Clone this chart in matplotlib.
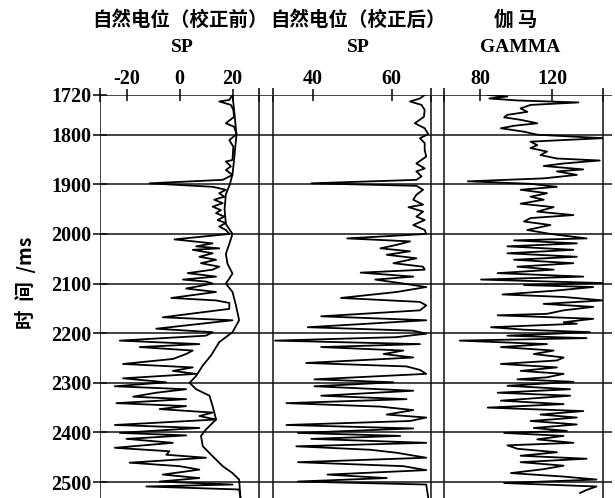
import matplotlib.pyplot as plt

# depth in ms, values
sp_raw_depth = [1720, 1730, 1733, 1740, 1750, 1764, 1777, 1784, 1799, 1811, 1824, 1851, 1854, 1864,
                1871, 1881, 1891, 1898, 1905, 1911, 1918, 1925, 1931, 1938, 1945, 1952, 1958, 1965,
                1972, 1978, 1985, 1992, 2000, 2011, 2019, 2025, 2029, 2032, 2039, 2046, 2052, 2059,
                2066, 2072, 2079, 2086, 2092, 2096, 2100, 2110, 2117, 2129, 2134, 2139, 2151, 2168,
                2174, 2191, 2198, 2205, 2215, 2222, 2228, 2235, 2242, 2252, 2262, 2269, 2276, 2282,
                2291, 2299, 2307, 2313, 2320, 2328, 2333, 2341, 2347, 2353, 2360, 2367, 2374, 2385,
                2391, 2401, 2406, 2413, 2421, 2431, 2438, 2445, 2451, 2461, 2468, 2475, 2485, 2492,
                2499, 2505, 2509, 2515, 2532]
sp_raw = [20, 18.8, 15, 19.4, 20.3, 20.6, 17.5, 20.6, 21.5, 18.8, 20.3, 20, 17.5, 19.4,
          17.5, 20, 16.3, -11.3, 12.5, 17.5, 15, 16.9, 13.1, 16.3, 12.5, 15.6, 13.8, 16.9,
          14.4, 17.5, 15, 17.5, 18.8, -1.9, 12.5, 6.3, 15, 5, 12.5, 7.5, 13.8, 8.1,
          15, 12.5, 3.1, 13.8, 1.3, 10, 12.5, 2.5, 13.8, -3.1, 13.8, 18.8, 18.8, -6.3,
          20, -8.8, 12.5, 10, -22.5, 7.5, -15, 5, 2.5, -2.5, -21.3, 5, -2.5, 6.3,
          -21.3, -5, -24.4, 2.5, -8.8, -17.5, 2.5, -23.8, 2.5, -7.5, 12.5, 7.5, 13.8, -24.4,
          7.5, -22.5, 2.5, -20, -2.5, -24.4, -3.8, -5, 10, -18.8, 0, 7.5, -6.3, 7.5,
          -7.5, 20, -12.5, 22.5, 23]

sp_base_depth = [1720, 1750, 1800, 1850, 1880, 1900, 1920, 1950, 1980, 2000, 2020, 2040, 2060, 2080,
                 2100, 2117, 2144, 2174, 2198, 2218, 2245, 2265, 2286, 2300, 2313, 2326, 2347, 2374,
                 2394, 2407, 2428, 2448, 2468, 2482, 2495, 2532]
sp_base = [20, 20.6, 21.5, 20.6, 20, 19, 17.5, 17, 17.5, 20, 18.8, 17.5, 18.1, 20,
           17.5, 20, 21.3, 22.5, 20, 15, 11.9, 8.8, 6.3, 3.8, 6.3, 11.3, 12.5, 13.8,
           10, 8.1, 8.8, 12.5, 16.3, 20, 22.5, 23]

sp_corr_depth = [1720, 1727, 1733, 1740, 1750, 1764, 1777, 1787, 1799, 1807, 1817, 1831, 1844, 1858,
                 1868, 1874, 1884, 1891, 1898, 1903, 1911, 1921, 1931, 1941, 1946, 1955, 1965, 1972,
                 1982, 1992, 2000, 2009, 2015, 2022, 2029, 2035, 2042, 2049, 2059, 2066, 2072, 2078,
                 2086, 2092, 2100, 2107, 2117, 2129, 2137, 2144, 2154, 2166, 2174, 2188, 2195, 2201,
                 2208, 2215, 2222, 2228, 2235, 2242, 2249, 2260, 2267, 2274, 2282, 2293, 2299, 2307,
                 2316, 2326, 2333, 2341, 2348, 2355, 2364, 2370, 2377, 2385, 2392, 2401, 2407, 2413,
                 2421, 2428, 2435, 2441, 2451, 2460, 2468, 2476, 2485, 2492, 2499, 2505, 2532]
sp_corr = [68.4, 67.2, 64.7, 67.6, 68.4, 68.2, 65.9, 68.4, 69.3, 67.2, 68.4, 68.4, 68.8, 66.3,
           68.4, 66.3, 67.6, 66.3, 39.7, 66.3, 68, 66.3, 65.5, 68, 64.3, 68, 66.3, 68.4,
           65.5, 68.4, 68.8, 48.8, 64.7, 61.3, 57.2, 64.7, 58.8, 66.3, 60.5, 68, 68.4, 52.2,
           65.5, 55.9, 63, 68.8, 61.3, 47.2, 67.2, 68.8, 67.2, 42.2, 68.8, 38.8, 65.5, 68.8,
           61.3, 30.5, 67.2, 42.2, 63, 58, 65.5, 38.4, 63.8, 67.2, 68.8, 40.5, 60.5, 40.5,
           65.5, 42.2, 63.8, 33.4, 57.2, 65.5, 58.8, 68.8, 64.7, 33.4, 65.5, 36.3, 62.2, 39.7,
           68.8, 35.9, 54.7, 61.3, 68.8, 36.3, 63, 68.8, 43.8, 58.8, 36.3, 68.8, 69.3]

gamma_depth = [1720, 1723, 1727, 1731, 1735, 1740, 1747, 1754, 1760, 1765, 1770, 1777, 1782, 1787,
               1794, 1800, 1807, 1814, 1821, 1827, 1834, 1841, 1848, 1852, 1858, 1863, 1870, 1874,
               1881, 1888, 1894, 1899, 1905, 1911, 1918, 1925, 1931, 1939, 1946, 1955, 1962, 1968,
               1975, 1982, 1992, 2000, 2009, 2013, 2019, 2025, 2032, 2039, 2046, 2052, 2059, 2066,
               2072, 2079, 2086, 2092, 2099, 2103, 2107, 2114, 2122, 2127, 2134, 2141, 2147, 2154,
               2161, 2164, 2171, 2178, 2181, 2188, 2193, 2198, 2205, 2210, 2215, 2222, 2228, 2235,
               2242, 2249, 2255, 2262, 2269, 2276, 2282, 2289, 2293, 2298, 2306, 2313, 2320, 2326,
               2336, 2343, 2350, 2357, 2364, 2370, 2377, 2384, 2391, 2397, 2401, 2407, 2414, 2421,
               2426, 2433, 2440, 2447, 2453, 2460, 2467, 2474, 2482, 2489, 2495, 2502, 2509, 2516,
               2522]
gamma = [84.2, 95.1, 85.1, 100.6, 134.4, 107.9, 102.4, 106.1, 95.1, 93.3, 102.4, 111.6, 98.8, 91.5,
         104.3, 111.6, 148, 107.9, 111.6, 107.9, 117, 113.4, 122.5, 146.2, 126.2, 115.2, 137.1, 122.5,
         133.5, 115.2, 73.2, 107.9, 122.5, 102.4, 117, 107.9, 115.2, 102.4, 120.7, 111.6, 131.6, 107.9,
         104.3, 118.9, 106.1, 118.9, 138.9, 98.8, 133.5, 95.1, 131.6, 95.1, 133.5, 98.8, 131.6, 100.6,
         120.7, 89.7, 137.1, 80.5, 148, 104.3, 142.6, 122.5, 92.4, 126.2, 148, 115.2, 142.6, 126.2,
         117, 89.7, 142.6, 126.2, 133.5, 86, 104.3, 140.8, 95.1, 138.9, 68.7, 117, 91.5, 120.7,
         109.7, 126.2, 122.5, 91.5, 122.5, 102.4, 126.2, 117, 100.6, 131.6, 95.1, 129.8, 89.7, 129.8,
         91.5, 126.2, 84.2, 137.1, 113.4, 133.5, 107.9, 133.5, 109.7, 128, 93.3, 126.2, 111.6, 131.6,
         95.1, 100.6, 122.5, 102.4, 138.9, 102.4, 126.2, 115.2, 97, 126.2, 144.4, 93.3, 144.4, 138.9,
         135.3]

depth_ticks = [1720, 1800, 1900, 2000, 2100, 2200, 2300, 2400, 2500]
titles = ['自然电位（校正前）', '自然电位（校正后）', '伽 马']
curve_names = ['SP', 'SP', 'GAMMA']
track_ticks = [[-20, 0, 20], [40, 60], [80, 120]]
track_tick_labels = [['-20', '0', '20'], ['40', '60'], ['80', '120']]
track_limits = [(-30, 30), (30, 70), (60, 148)]

W, H = 615, 498
TOP, BOT = 95, 498
Y_BOTTOM = 1720 + (BOT - TOP) / 0.4962
SERIF = 'Liberation Serif'
CJK = ['Noto Sans CJK SC', 'DejaVu Sans']


def box(x0, x1):
    return [x0 / W, 1 - BOT / H, (x1 - x0) / W, (BOT - TOP) / H]


fig = plt.figure(figsize=(W / 100, H / 100), dpi=100)

# frame: depth grid and track borders
base = fig.add_axes(box(100, 612))
base.set_xlim(0, 512)
base.set_ylim(Y_BOTTOM, 1720)
for s in base.spines.values():
    s.set_visible(False)
for t in depth_ticks:
    base.axhline(t, color='#111111', lw=1.1)
borders = [0, 159, 173, 331, 344, 503]
for b in borders:
    base.axvline(b, color='#111111', lw=1.1)
base.set_xticks(borders)
base.tick_params(axis='x', top=True, bottom=False, labeltop=False, labelbottom=False,
                 direction='inout', length=10, width=1.1)
base.set_yticks(depth_ticks)
base.set_yticklabels([str(t) for t in depth_ticks], fontfamily=SERIF, fontweight='bold', fontsize=14.5)
base.tick_params(axis='y', direction='inout', length=10, width=1.1, pad=1)

tracks = [(100, 259), (273, 431), (444, 603)]
curves = [[(sp_raw_depth, sp_raw), (sp_base_depth, sp_base)],
          [(sp_corr_depth, sp_corr)],
          [(gamma_depth, gamma)]]

for i, (x0, x1) in enumerate(tracks):
    ax = fig.add_axes(box(x0, x1))
    ax.patch.set_alpha(0)
    for s in ax.spines.values():
        s.set_visible(False)
    for d, v in curves[i]:
        ax.plot(v, d, color='black', lw=1.3)
    ax.set_xlim(*track_limits[i])
    ax.set_ylim(Y_BOTTOM, 1720)
    ax.set_yticks([])
    ax.set_xticks(track_ticks[i])
    ax.set_xticklabels(track_tick_labels[i], fontfamily=SERIF, fontweight='bold', fontsize=14.5)
    ax.tick_params(axis='x', top=True, bottom=False, labeltop=True, labelbottom=False,
                   direction='inout', length=8, width=1.1, pad=0)

title_x = [180, 358, 516]
name_x = [182, 358, 520]
for i in range(3):
    fig.text(title_x[i] / W, 1 - 20 / H, titles[i], family=CJK, fontweight='bold',
             fontsize=14, ha='center', va='center')
    fig.text(name_x[i] / W, 1 - 48 / H, curve_names[i], family=SERIF, fontweight='bold',
             fontsize=14, ha='center', va='center')

fig.text(25 / W, 1 - 283 / H, '时  间  /ms', family=CJK, fontweight='bold', fontsize=14,
         rotation=90, ha='center', va='center')

fig.savefig('out.png', dpi=100)
